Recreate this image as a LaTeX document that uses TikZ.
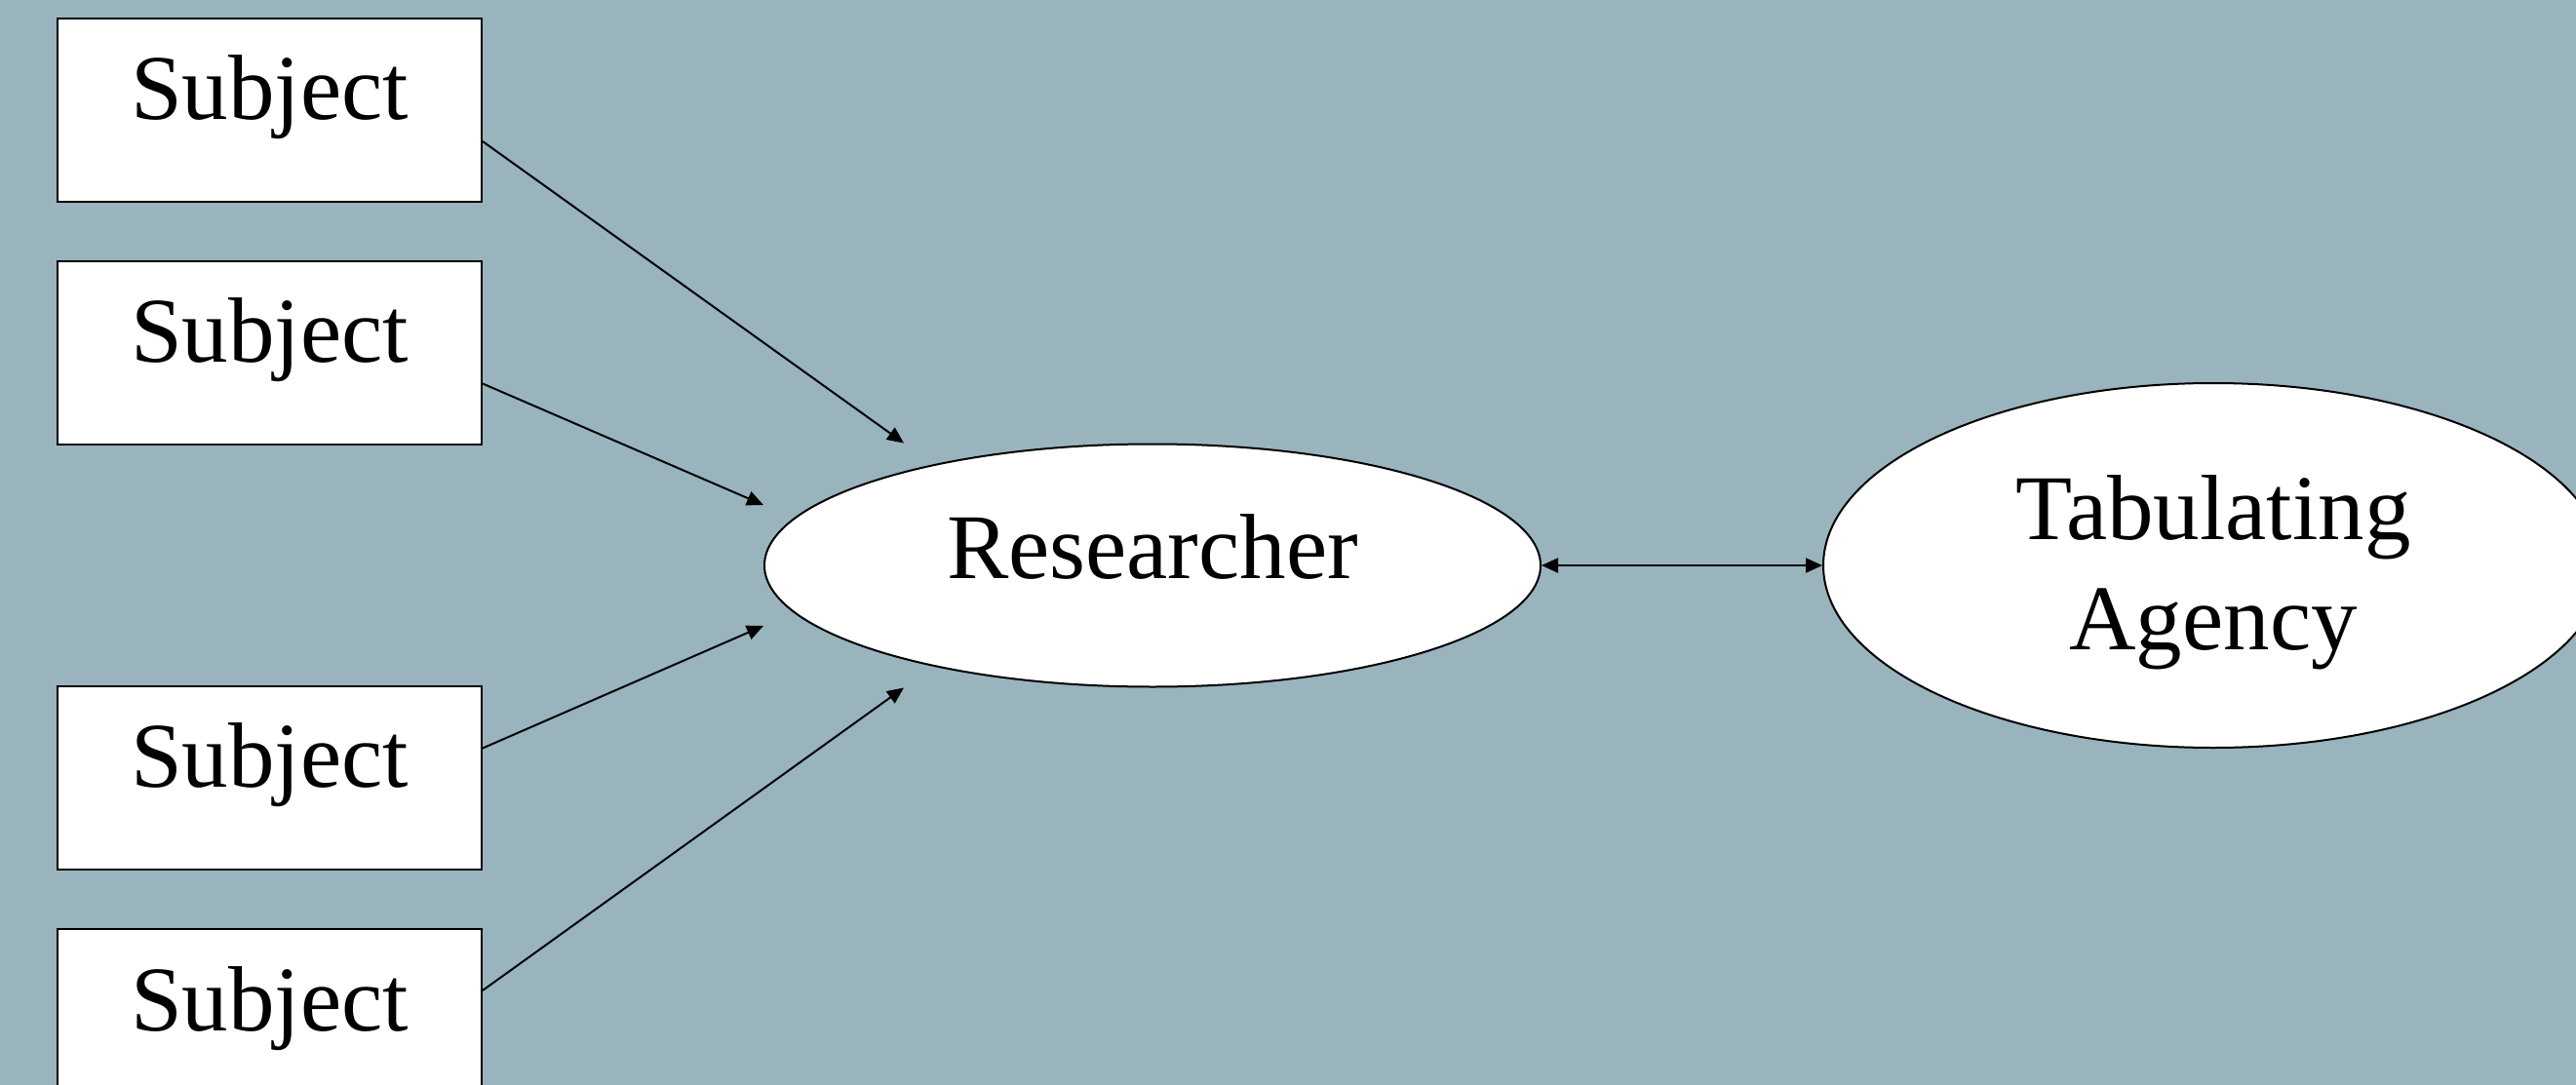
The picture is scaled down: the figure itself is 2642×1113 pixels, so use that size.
\documentclass[tikz,border=0pt]{standalone}
\usepackage{fontspec}
\setmainfont{Liberation Serif}
\usetikzlibrary{arrows.meta,shapes.geometric,calc}
\definecolor{bgcol}{RGB}{153,180,189}
\tikzset{
  bigfont/.style={font=\fontsize{95}{113}\selectfont},
  subjbox/.style={draw, fill=white, line width=2pt, rectangle, inner sep=0pt,
    minimum width=435pt, minimum height=188pt, bigfont, text height=70pt, text depth=50pt},
  oval/.style={draw, fill=white, line width=2pt, ellipse, inner sep=0pt, bigfont},
  conn/.style={line width=2pt, -{Triangle[length=17pt,width=15pt]}},
  dconn/.style={line width=2pt, {Triangle[length=17pt,width=15pt]}-{Triangle[length=17pt,width=15pt]}}
}
\begin{document}
\begin{tikzpicture}[x=1pt,y=-1pt]
\fill[bgcol] (0,0) rectangle (2642,1113);
\useasboundingbox (0,0) rectangle (2642,1113);
\clip (0,0) rectangle (2642,1113);
\node[subjbox] (s1) at (276.5,113) {Subject};
\node[subjbox] (s2) at (276.5,361.5) {Subject};
\node[subjbox] (s3) at (276.5,797.5) {Subject};
\node[subjbox] (s4) at (276.5,1047) {Subject};
\node[oval, minimum width=796pt, minimum height=249pt, text height=72pt, text depth=46pt] (R) at (1182,580) {Researcher};
\node[oval, minimum width=800pt, minimum height=374pt, align=center] (T) at (2270,580) {\rule{0pt}{80pt}Tabulating\\Agency};
\coordinate (t1) at ($(R.west |- R.north)+(144,0)$);
\coordinate (t2) at ($(R.west)+(0,-62)$);
\coordinate (t3) at ($(R.west)+(0,62)$);
\coordinate (t4) at ($(R.west |- R.south)+(144,0)$);
\draw[conn] ($(s1.east)+(0,32)$) -- (t1);
\draw[conn] ($(s2.east)+(0,32)$) -- (t2);
\draw[conn] ($(s3.east)+(0,-30)$) -- (t3);
\draw[conn] ($(s4.east)+(0,-31)$) -- (t4);
\draw[dconn] (R.east) -- (T.west);
\end{tikzpicture}
\end{document}
